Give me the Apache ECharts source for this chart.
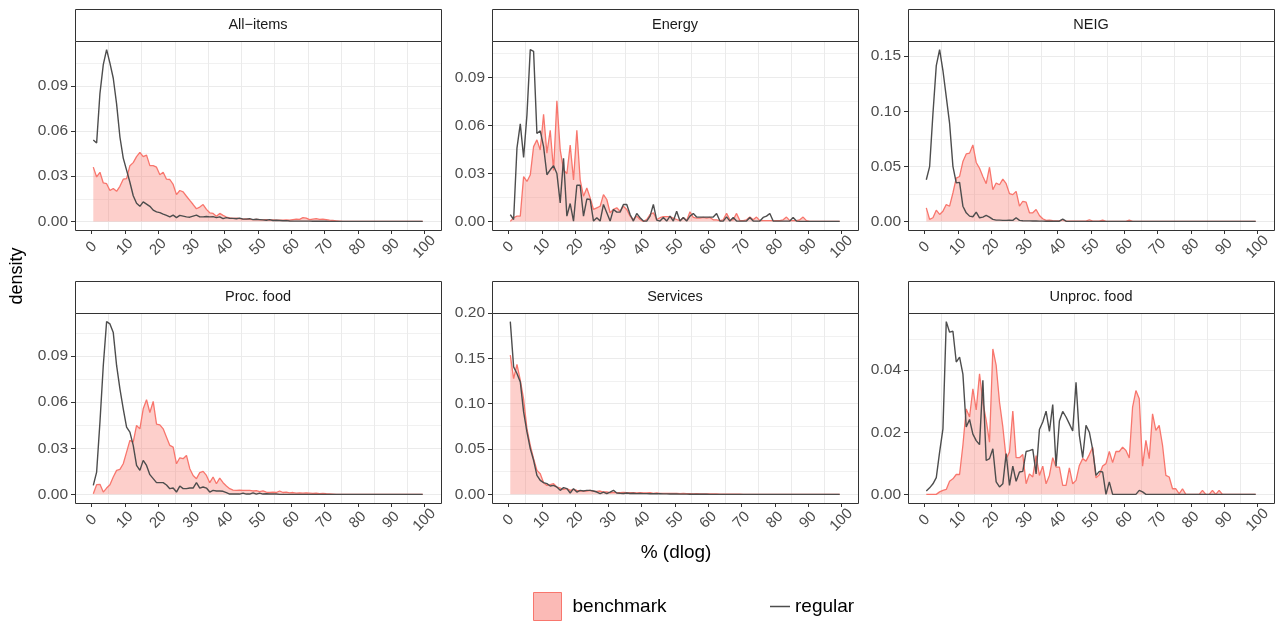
<!DOCTYPE html>
<html><head><meta charset="utf-8">
<script src="https://cdn.jsdelivr.net/npm/echarts@6/dist/echarts.min.js"></script>
<style>html,body{margin:0;padding:0;background:#fff}#c{width:1282px;height:621px}</style>
</head><body><div id="c"></div>
<script>
// ---- data ----
const xValues = [0.5,1.5,2.5,3.5,4.5,5.5,6.5,7.5,8.5,9.5,10.5,11.5,12.5,13.5,14.5,15.5,16.5,17.5,18.5,19.5,
 20.5,21.5,22.5,23.5,24.5,25.5,26.5,27.5,28.5,29.5,30.5,31.5,32.5,33.5,34.5,35.5,36.5,37.5,38.5,39.5,
 40.5,41.5,42.5,43.5,44.5,45.5,46.5,47.5,48.5,49.5,50.5,51.5,52.5,53.5,54.5,55.5,56.5,57.5,58.5,59.5,
 60.5,61.5,62.5,63.5,64.5,65.5,66.5,67.5,68.5,69.5,70.5,71.5,72.5,73.5,74.5,75.5,76.5,77.5,78.5,79.5,
 80.5,81.5,82.5,83.5,84.5,85.5,86.5,87.5,88.5,89.5,90.5,91.5,92.5,93.5,94.5,95.5,96.5,97.5,98.5,99.5];

const panelNames = ["All\u2212items", "Energy", "NEIG", "Proc. food", "Services", "Unproc. food"];
const xTicks = [0,10,20,30,40,50,60,70,80,90,100];
const allItemsYTicks = [0, 0.03, 0.06, 0.09];
const energyYTicks = [0, 0.03, 0.06, 0.09];
const neigYTicks = [0, 0.05, 0.10, 0.15];
const procFoodYTicks = [0, 0.03, 0.06, 0.09];
const servicesYTicks = [0, 0.05, 0.10, 0.15, 0.20];
const unprocFoodYTicks = [0, 0.02, 0.04];

const allItemsRegular = [0.054,0.052,0.085,0.104,0.114,0.105,0.095,0.078,0.056,0.042,
 0.034,0.026,0.017,0.012,0.010,0.013,0.0115,0.010,0.0075,0.0063,
 0.0058,0.0048,0.004,0.003,0.0042,0.0025,0.004,0.0035,0.003,0.0028,
 0.0035,0.0042,0.003,0.003,0.0033,0.003,0.0032,0.0025,0.003,0.0018,
 0.0025,0.002,0.002,0.0018,0.0022,0.0015,0.0015,0.0018,0.0012,0.0014,
 0.0012,0.001,0.0008,0.0012,0.0006,0.0008,0.0006,0.0004,0.0005,0.0003,
 0.0002,0.0002,0.0002,0.0002,0.0002,0.0002,0.0001,0.0001,0.0001,0.0001,
 0.0001,0,0,0,0,0,0,0,0,0,
 0,0,0,0,0,0,0,0,0,0,
 0,0,0,0,0,0,0,0,0,0];
const allItemsBenchmark = [0.036,0.0295,0.0326,0.0255,0.025,0.0205,0.0218,0.020,0.0233,0.028,
 0.0284,0.037,0.039,0.043,0.0458,0.043,0.044,0.037,0.037,0.036,
 0.031,0.0326,0.028,0.0278,0.0245,0.0178,0.0205,0.0196,0.0167,0.0139,
 0.0112,0.0084,0.0095,0.0112,0.008,0.0057,0.0053,0.0035,0.0053,0.004,
 0.0029,0.0024,0.002,0.0022,0.0018,0.0015,0.0016,0.0013,0.0012,0.0014,
 0.0011,0.001,0.0012,0.0009,0.001,0.0008,0.0009,0.0008,0.001,0.0009,
 0.0012,0.0015,0.0014,0.0025,0.0022,0.0012,0.0015,0.0018,0.0014,0.0015,
 0.0012,0.0008,0.0006,0.0004,0.0002,0,0,0,0,0,
 0,0,0,0,0,0,0,0,0,0,
 0,0,0,0,0,0,0,0,0,0];

const energyRegular = [0.0043,0.0012,0.0458,0.061,0.040,0.0665,0.1075,0.1064,0.055,0.0567,
 0.0468,0.0292,0.0323,0.0348,0.030,0.0116,0.0395,0.0033,0.0112,0.0002,
 0.0226,0.0226,0.0033,0.014,0.0137,0.0002,0.0023,0.0002,0.0106,0.0054,
 0.0002,0.0075,0.0058,0.0058,0.0106,0.0106,0.0043,0.0002,0.005,0.0023,
 0.0002,0.0002,0.0033,0.0106,0.0008,0.0002,0.0025,0.0002,0.0033,0.0002,
 0.0064,0.0002,0.0025,0.0002,0.0033,0.005,0.0028,0.0027,0.0027,0.0027,
 0.0027,0.0027,0.005,0.0002,0.0002,0.0028,0.0002,0.0025,0.0002,0.0002,
 0.0002,0.0002,0.0025,0.0002,0.0002,0.0002,0.0025,0.0033,0.005,0.0002,
 0.0002,0.0002,0.0002,0.0002,0.0002,0.0025,0.0002,0,0,0,
 0,0,0,0,0,0,0,0,0,0];
const energyBenchmark = [0,0.0023,0.0033,0.0033,0.028,0.025,0.029,0.0468,0.051,0.0447,
 0.067,0.0427,0.057,0.0319,0.0754,0.0447,0.0323,0.0298,0.0478,0.026,
 0.057,0.026,0.0157,0.0209,0.0147,0.0075,0.0085,0.0095,0.0168,0.0137,
 0.0054,0.0075,0.0085,0.0064,0.0095,0.0075,0.0033,0.0012,0.0033,0.0012,
 0,0.0012,0.0043,0.0054,0.0012,0.0023,0.003,0.003,0.003,0.002,
 0.0012,0.0005,0.0025,0.0005,0.006,0.0025,0.002,0.002,0.0025,0.002,
 0.0025,0.001,0.001,0.0005,0.001,0.005,0.001,0.001,0.005,0.0005,
 0.0005,0.001,0.0027,0.001,0.0027,0.0005,0.0005,0.0005,0.0005,0.0005,
 0.0005,0.0005,0.001,0.0027,0.0005,0.0005,0.0005,0.001,0.0027,0.0005,
 0,0,0,0,0,0,0,0,0,0];

const neigRegular = [0.0378,0.0498,0.098,0.1414,0.156,0.137,0.113,0.089,0.050,0.035,
 0.0354,0.0138,0.0078,0.0048,0.0042,0.0084,0.0033,0.0039,0.0054,0.0039,
 0.0018,0.0012,0.0012,0.0009,0.0009,0.0012,0.0009,0.0033,0.0009,0.0006,
 0.0005,0.0005,0.0004,0.0004,0.0003,0.0003,0.0002,0.0002,0.0002,0.0002,
 0.0002,0.002,0.0002,0,0,0,0,0,0,0,
 0,0,0,0,0,0,0,0,0,0,
 0,0,0,0,0,0,0,0,0,0,
 0,0,0,0,0,0,0,0,0,0,
 0,0,0,0,0,0,0,0,0,0,
 0,0,0,0,0,0,0,0,0,0];
const neigBenchmark = [0.0123,0.0018,0.0033,0.0102,0.0063,0.0093,0.0153,0.0138,0.0258,0.0393,
 0.0408,0.0543,0.0613,0.062,0.0694,0.0535,0.0483,0.0408,0.0342,0.0492,
 0.0288,0.0348,0.0333,0.0384,0.0342,0.0252,0.0243,0.0273,0.0138,0.0183,
 0.0174,0.0078,0.0078,0.0108,0.0054,0.0024,0.001,0.0012,0.0006,0.0005,
 0.0004,0.0015,0.0003,0.0002,0.0002,0.0002,0.0002,0.0002,0.0002,0.0015,
 0.0002,0.0002,0.0002,0.0012,0.0001,0.0001,0.0001,0.0001,0.0001,0.0001,
 0.0001,0.0012,0,0,0,0,0,0,0,0,
 0,0,0,0,0,0,0,0,0,0,
 0,0,0,0,0,0,0,0,0,0,
 0,0,0,0,0,0,0,0,0,0];

const procFoodRegular = [0.0058,0.0145,0.047,0.0838,0.1123,0.1108,0.1052,0.0838,0.0686,0.0556,
 0.0437,0.0405,0.0318,0.0188,0.0156,0.0221,0.0188,0.0128,0.0102,0.0076,
 0.0076,0.0076,0.0061,0.0037,0.0041,0.0015,0.0054,0.0037,0.0037,0.0041,
 0.0041,0.0076,0.0041,0.0048,0.0041,0.0015,0.0026,0.0022,0.0022,0.002,
 0.0011,0.0002,0.0002,0.0002,0.0002,0.0008,0.0002,0.0002,0.001,0.0002,
 0.0008,0.0002,0.0004,0.0002,0.0002,0.0002,0,0,0,0,
 0,0,0,0,0,0,0,0,0,0,
 0,0,0,0,0,0,0,0,0,0,
 0,0,0,0,0,0,0,0,0,0,
 0,0,0,0,0,0,0,0,0,0];
const procFoodBenchmark = [0.0004,0.0063,0.0065,0.0015,0.0041,0.0063,0.0113,0.0156,0.0162,0.0199,
 0.0275,0.0351,0.034,0.0448,0.0426,0.0556,0.0615,0.0532,0.0604,0.0457,
 0.0452,0.0426,0.0372,0.0318,0.0307,0.0199,0.0238,0.0232,0.0253,0.0167,
 0.0123,0.0102,0.0141,0.0149,0.0123,0.0076,0.0113,0.0069,0.0106,0.0076,
 0.0054,0.0037,0.0028,0.0026,0.0028,0.0026,0.0026,0.0026,0.0022,0.0024,
 0.0018,0.0022,0.0015,0.0012,0.0015,0.0012,0.0022,0.0012,0.0015,0.001,
 0.0012,0.0008,0.001,0.0008,0.001,0.0008,0.0006,0.0008,0.0005,0.0006,
 0.0004,0.0003,0.0002,0,0,0,0,0,0,0,
 0,0,0,0,0,0,0,0,0,0,
 0,0,0,0,0,0,0,0,0,0];

const servicesRegular = [0.1906,0.1407,0.1333,0.1241,0.091,0.0689,0.0505,0.0376,0.021,0.0155,
 0.0129,0.0118,0.0092,0.0099,0.0081,0.0044,0.0074,0.0063,0.0015,0.0063,
 0.0026,0.0044,0.0037,0.0044,0.0044,0.0037,0.0026,0.0008,0.0026,0.0008,
 0.0026,0.0045,0.0015,0.0012,0.001,0.0015,0.001,0.0012,0.0008,0.001,
 0.0008,0.0008,0.0006,0.0008,0.0006,0.0006,0.0005,0.0005,0.0004,0.0005,
 0.0004,0.0003,0.0003,0.0003,0.0002,0.0002,0.0002,0.0001,0.0001,0.0001,
 0,0,0,0,0,0,0,0,0,0,
 0,0,0,0,0,0,0,0,0,0,
 0,0,0,0,0,0,0,0,0,0,
 0,0,0,0,0,0,0,0,0,0];
const servicesBenchmark = [0.1536,0.1278,0.1433,0.126,0.105,0.0726,0.0541,0.0394,0.0265,0.0228,
 0.0129,0.0099,0.0107,0.0118,0.0081,0.007,0.0055,0.0063,0.0044,0.0055,
 0.0044,0.0037,0.0037,0.0037,0.0044,0.0033,0.0033,0.0037,0.0026,0.0026,
 0.0018,0.0022,0.002,0.0018,0.0022,0.0018,0.002,0.0018,0.0015,0.0018,
 0.0015,0.0015,0.0018,0.0012,0.0015,0.0012,0.0012,0.001,0.0012,0.001,
 0.001,0.0008,0.001,0.0008,0.0008,0.0006,0.0008,0.0006,0.0005,0.0005,
 0.0005,0.0004,0.0004,0.0003,0.0003,0.0002,0.0002,0.0002,0.0001,0.0001,
 0,0,0,0,0,0,0,0,0,0,
 0,0,0,0,0,0,0,0,0,0,
 0,0,0,0,0,0,0,0,0,0];

const unprocFoodRegular = [0.0011,0.0021,0.0034,0.0054,0.0136,0.0211,0.0556,0.0522,0.0525,0.0426,
 0.0442,0.0387,0.0217,0.0241,0.0194,0.0173,0.016,0.0367,0.0109,0.0115,
 0.0147,0.004,0.0024,0.0034,0.0131,0.0029,0.0091,0.0042,0.0072,0.0074,
 0.0138,0.0141,0.0145,0.0066,0.0209,0.0233,0.0268,0.0203,0.0289,0.0091,
 0.0236,0.0267,0.0249,0.0227,0.0204,0.0361,0.019,0.0118,0.0222,0.02,
 0.0145,0.0061,0.0074,0.0072,0,0.004,0,0,0,0,
 0,0,0,0,0.0013,0.0008,0,0,0,0,
 0,0,0,0,0,0,0,0,0,0,
 0,0,0,0,0,0,0,0,0,0,
 0,0,0,0,0,0,0,0,0,0];
const unprocFoodBenchmark = [0,0,0,0,0.0008,0.0013,0.0016,0.0042,0.005,0.0064,
 0.0064,0.0158,0.0275,0.0249,0.034,0.0272,0.0388,0.0297,0.0238,0.0168,
 0.0468,0.0415,0.0297,0.0217,0.0115,0.0136,0.0268,0.0118,0.0118,0.0128,
 0.0034,0.0066,0.0056,0.0125,0.0061,0.0091,0.0034,0.0061,0.0118,0.0088,
 0.0088,0.0029,0.0029,0.0085,0.0034,0.0045,0.0093,0.0115,0.0107,0.0128,
 0.0152,0.0053,0.0063,0.0091,0.0099,0.0138,0.0102,0.0138,0.0138,0.0152,
 0.0141,0.0117,0.0281,0.0334,0.0308,0.0091,0.0174,0.0115,0.0259,0.0206,
 0.0222,0.0158,0.0061,0.0056,0.0018,0.0018,0.0002,0.0018,0,0,
 0,0,0,0.0013,0,0,0.0013,0,0.0013,0,
 0,0,0,0,0,0,0,0,0,0];

// ---- layout / styling ----
const FONT = '"Liberation Sans", Arial, sans-serif';
const panels = [
  {name: panelNames[0], ben: allItemsBenchmark, reg: allItemsRegular, yTicks: allItemsYTicks},
  {name: panelNames[1], ben: energyBenchmark, reg: energyRegular, yTicks: energyYTicks},
  {name: panelNames[2], ben: neigBenchmark, reg: neigRegular, yTicks: neigYTicks},
  {name: panelNames[3], ben: procFoodBenchmark, reg: procFoodRegular, yTicks: procFoodYTicks},
  {name: panelNames[4], ben: servicesBenchmark, reg: servicesRegular, yTicks: servicesYTicks},
  {name: panelNames[5], ben: unprocFoodBenchmark, reg: unprocFoodRegular, yTicks: unprocFoodYTicks}
];
const colLeft = [75, 492, 908], rowTop = [41, 313], rowH = [189, 190], W = 366, stripH = 32;
const xMinor = [5,15,25,35,45,55,65,75,85,95];
const GRID = '#EBEBEB', INK = '#333333';

const grids = [], xAxes = [], yAxes = [], series = [], graphics = [];
panels.forEach((p, i) => {
  const r = Math.floor(i / 3), c = i % 3;
  const left = colLeft[c], top = rowTop[r], h = rowH[r];
  grids.push({left: left, top: top, width: W, height: h, show: false});
  const dmax = Math.max(...p.ben, ...p.reg);
  const ymin = -0.05 * dmax, ymax = 1.05 * dmax;
  const step = p.yTicks[1] - p.yTicks[0];
  const minorY = [];
  for (let k = 0; (k + 0.5) * step < ymax; k++) minorY.push(+((k + 0.5) * step).toFixed(6));

  xAxes.push({type: 'value', gridIndex: i, min: -5, max: 105, position: 'bottom',
    axisLine: {show: false, onZero: false},
    axisTick: {show: true, length: 4, customValues: xTicks, lineStyle: {color: INK, width: 1}},
    axisLabel: {customValues: xTicks, rotate: 45, align: 'center', verticalAlign: 'middle', margin: 17,
      color: '#4D4D4D', fontSize: 15, fontFamily: FONT},
    splitLine: {show: false}});
  xAxes.push({type: 'value', gridIndex: i, min: -5, max: 105, interval: 10, position: 'bottom',
    axisLine: {show: false, onZero: false}, axisTick: {show: false, customValues: xMinor}, axisLabel: {show: false},
    splitLine: {show: true, lineStyle: {color: GRID, width: 1}}});
  yAxes.push({type: 'value', gridIndex: i, min: ymin, max: ymax, position: 'left',
    axisLine: {show: false, onZero: false},
    axisTick: {show: true, length: 4, customValues: p.yTicks, lineStyle: {color: INK, width: 1}},
    axisLabel: {customValues: p.yTicks, formatter: v => v.toFixed(2), margin: 7,
      color: '#4D4D4D', fontSize: 15.5, fontFamily: FONT},
    splitLine: {show: true, lineStyle: {color: GRID, width: 1}}});
  yAxes.push({type: 'value', gridIndex: i, min: ymin, max: ymax, position: 'left',
    axisLine: {show: false, onZero: false}, axisTick: {show: false, customValues: minorY}, axisLabel: {show: false},
    splitLine: {show: true, lineStyle: {color: GRID, width: 0.7}}});

  series.push({name: 'benchmark', type: 'line', xAxisIndex: 2 * i, yAxisIndex: 2 * i,
    data: xValues.map((x, k) => [x, p.ben[k]]), showSymbol: false, symbol: 'none',
    lineStyle: {color: '#F8766D', width: 1.3}, itemStyle: {color: '#F8766D'},
    areaStyle: {color: 'rgba(248,118,109,0.5)'}, z: 2, animation: false});
  series.push({name: 'regular', type: 'line', xAxisIndex: 2 * i, yAxisIndex: 2 * i,
    data: xValues.map((x, k) => [x, p.reg[k]]), showSymbol: false, symbol: 'none',
    lineStyle: {color: '#4D4D4D', width: 1.4}, itemStyle: {color: '#4D4D4D'}, z: 3, animation: false});

  // panel border
  graphics.push({type: 'rect', shape: {x: left + 0.5, y: top + 0.5, width: W, height: h},
    style: {fill: null, stroke: INK, lineWidth: 1}, z: 100, silent: true});
  // strip
  graphics.push({type: 'rect', shape: {x: left + 0.5, y: top - stripH + 0.5, width: W, height: stripH},
    style: {fill: '#FFFFFF', stroke: INK, lineWidth: 1}, z: 100, silent: true});
  graphics.push({type: 'text', x: left + W / 2, y: top - stripH / 2,
    style: {text: p.name, fill: '#1A1A1A', font: '14.5px ' + FONT, textAlign: 'center', textVerticalAlign: 'middle'},
    z: 101, silent: true});
});

// axis titles
graphics.push({type: 'text', x: 17, y: 276, rotation: Math.PI / 2,
  style: {text: 'density', fill: '#000', font: '18px ' + FONT, textAlign: 'center', textVerticalAlign: 'middle'}, z: 101});
graphics.push({type: 'text', x: 676, y: 553,
  style: {text: '% (dlog)', fill: '#000', font: '19px ' + FONT, textAlign: 'center', textVerticalAlign: 'middle'}, z: 101});

const chart = echarts.init(document.getElementById('c'), null, {renderer: 'canvas'});
chart.setOption({
  animation: false,
  backgroundColor: '#FFFFFF',
  grid: grids, xAxis: xAxes, yAxis: yAxes, series: series,
  legend: [
    {data: [{name: 'benchmark', icon: 'rect', itemStyle: {color: 'rgba(248,118,109,0.5)', borderColor: '#F8766D', borderWidth: 1}}],
     left: 533, top: 592, padding: 0, itemWidth: 28, itemHeight: 28, selectedMode: false,
     textStyle: {fontSize: 19, color: '#000', fontFamily: FONT, padding: [0, 0, 0, 6]}},
    {data: [{name: 'regular', icon: 'rect', itemStyle: {color: '#4D4D4D'}}],
     left: 770, top: 597, padding: 0, itemWidth: 20, itemHeight: 1.5, selectedMode: false,
     textStyle: {fontSize: 19, color: '#000', fontFamily: FONT, padding: [0, 0, 0, 0]}}
  ],
  graphic: graphics
});
</script>
</body></html>
